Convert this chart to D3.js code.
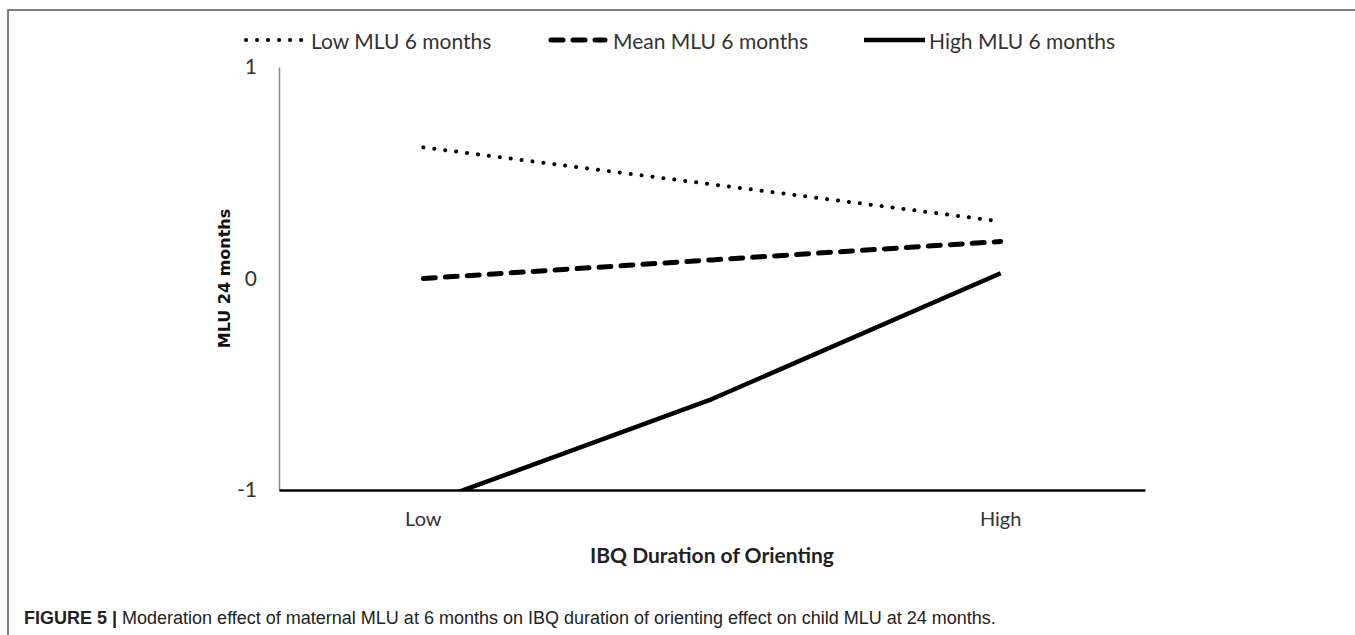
<!DOCTYPE html>
<html>
<head>
<meta charset="utf-8">
<script src="https://cdn.jsdelivr.net/npm/d3@7/dist/d3.min.js"></script>
<style>
  html, body { margin: 0; padding: 0; background: #fff; }
  svg { display: block; }
</style>
</head>
<body>
<svg id="chart" width="1355" height="635"></svg>
<script>
// ---- data ----
const categories = ["Low", "", "High"];
const lowMLU6 = [0.62, 0.445, 0.27];
const meanMLU6 = [0.0, 0.088, 0.175];
const highMLU6 = [-1.07, -0.57, 0.025];
const seriesNames = ["Low MLU 6 months", "Mean MLU 6 months", "High MLU 6 months"];
const yTicks = [-1, 0, 1];
const yTitle = "MLU 24 months";
const xTitle = "IBQ Duration of Orienting";
const captionBold = "FIGURE 5 |";
const captionText = " Moderation effect of maternal MLU at 6 months on IBQ duration of orienting effect on child MLU at 24 months.";

// ---- layout ----
const W = 1355, H = 635;
const plot = { left: 279, right: 1145, top: 67, bottom: 490 };
const svg = d3.select("#chart");
const labelFont = "Lato, 'Open Sans', sans-serif";

// frame
svg.append("path")
  .attr("d", `M8,${H}V10H${W}`)
  .attr("fill", "none").attr("stroke", "#555").attr("stroke-width", 1.5);

const x = d3.scaleBand().domain(d3.range(categories.length))
  .range([plot.left, plot.right]).padding(0);
const y = d3.scaleLinear().domain([-1, 1]).range([plot.bottom, plot.top]);
const cx = i => x(i) + x.bandwidth() / 2;

const styles = [
  { width: 4, dash: "0.1 10.9", cap: "round" },
  { width: 5, dash: "12 10", cap: "round" },
  { width: 4.5, dash: null, cap: "butt" }
];
const series = [lowMLU6, meanMLU6, highMLU6];

// clip
svg.append("clipPath").attr("id", "clip")
  .append("rect").attr("x", plot.left).attr("y", plot.top - 10)
  .attr("width", plot.right - plot.left).attr("height", plot.bottom - plot.top + 10);

const line = d3.line().x((d, i) => cx(i)).y(d => y(d));
const g = svg.append("g").attr("clip-path", "url(#clip)");
series.forEach((s, k) => {
  g.append("path").attr("d", line(s))
    .attr("fill", "none").attr("stroke", "#000")
    .attr("stroke-width", styles[k].width)
    .attr("stroke-linecap", styles[k].cap)
    .attr("stroke-linejoin", "round")
    .attr("stroke-dasharray", styles[k].dash);
});

// y axis
const yAxis = svg.append("g").attr("transform", `translate(${plot.left},0)`)
  .call(d3.axisLeft(y).tickValues(yTicks).tickSize(0).tickSizeOuter(0).tickPadding(22).tickFormat(d => String(d)));
yAxis.select(".domain").attr("stroke", "#8a8a8a").attr("stroke-width", 1.5);
yAxis.selectAll("text").attr("font-family", labelFont).attr("font-size", 21).attr("fill", "#333");

// x axis
const xAxis = svg.append("g").attr("transform", `translate(0,${plot.bottom})`)
  .call(d3.axisBottom(x).tickSize(0).tickSizeOuter(0).tickPadding(22).tickFormat(i => categories[i]));
xAxis.select(".domain").attr("stroke", "#000").attr("stroke-width", 2.5);
xAxis.selectAll("text").attr("font-family", labelFont).attr("font-size", 20).attr("fill", "#333");

// titles
svg.append("text").attr("transform", `translate(224,${y(0)}) rotate(-90)`)
  .attr("text-anchor", "middle").attr("dominant-baseline", "central")
  .attr("font-family", "'DejaVu Sans', Verdana, sans-serif").attr("font-weight", "bold")
  .attr("font-size", 16).attr("fill", "#111").text(yTitle);

svg.append("text").attr("x", cx(1)).attr("y", 563)
  .attr("text-anchor", "middle")
  .attr("font-family", labelFont).attr("font-weight", "bold")
  .attr("font-size", 21).attr("fill", "#222").text(xTitle);

// legend
const legendItems = [
  { x0: 246, x1: 302, tx: 311 },
  { x0: 551, x1: 605, tx: 613 },
  { x0: 864, x1: 925, tx: 929 }
];
const legY = 40;
legendItems.forEach((it, k) => {
  svg.append("line").attr("x1", it.x0).attr("x2", it.x1).attr("y1", legY).attr("y2", legY)
    .attr("stroke", "#000").attr("stroke-width", styles[k].width)
    .attr("stroke-linecap", styles[k].cap)
    .attr("stroke-dasharray", styles[k].dash);
  svg.append("text").attr("x", it.tx).attr("y", legY).attr("dominant-baseline", "central")
    .attr("font-family", labelFont).attr("font-size", 21).attr("fill", "#333")
    .text(seriesNames[k]);
});

// caption
const cap = svg.append("text").attr("x", 24).attr("y", 624)
  .attr("font-family", "'Liberation Sans', Arial, sans-serif").attr("font-size", 18).attr("fill", "#222");
cap.append("tspan").attr("font-weight", "bold").text(captionBold);
cap.append("tspan").text(captionText);
</script>
</body>
</html>
